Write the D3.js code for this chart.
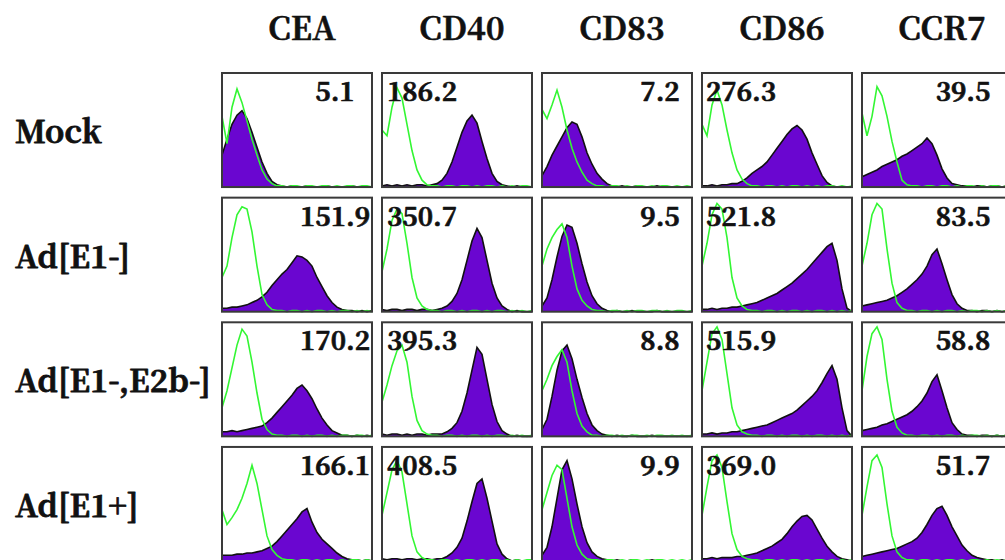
<!DOCTYPE html>
<html>
<head>
<meta charset="utf-8">
<script src="https://cdn.jsdelivr.net/npm/d3@7"></script>
<style>
  body { margin: 0; background: #fff; }
</style>
</head>
<body>
<div id="chart"></div>
<script>
const width = 1005, height = 560;

// markers (columns) and conditions (rows)
const markers = ['CEA', 'CD40', 'CD83', 'CD86', 'CCR7'];
const conditions = ['Mock', 'Ad[E1-]', 'Ad[E1-,E2b-]', 'Ad[E1+]'];

// MFI values printed in each panel
const mfiMock  = ['5.1', '186.2', '7.2', '276.3', '39.5'];
const mfiE1    = ['151.9', '350.7', '9.5', '521.8', '83.5'];
const mfiE2b   = ['170.2', '395.3', '8.8', '515.9', '58.8'];
const mfiE1pos = ['166.1', '408.5', '9.9', '369.0', '51.7'];

// histogram heights (% of panel height), 31 channels across the panel
// isotype control (green line)
const isoMock = [
  [62,38,70,86,74,58,42,28,15,7,3,1,1,0,1,1,0,1,1,0,1,1,0,1,0,1,1,0,1,1,0],
  [50,45,70,87,78,55,32,15,6,2,1,1,0,1,1,0,1,1,0,1,0,1,1,0,1,0,1,0,1,1,0],
  [68,60,72,85,70,50,34,22,13,6,3,1,1,0,1,1,0,1,0,1,1,0,1,0,1,1,0,1,0,1,0],
  [55,45,72,85,72,50,30,15,7,3,1,1,0,1,1,0,1,0,1,1,0,1,0,1,0,1,1,0,1,0,1],
  [65,45,62,88,80,62,40,22,6,2,1,1,0,1,1,0,1,1,0,1,0,1,1,0,1,0,1,1,0,1,0]
];
const isoE1 = [
  [30,40,65,85,92,90,70,40,15,6,2,1,1,0,1,1,0,1,0,1,1,0,1,0,1,1,0,1,0,1,0],
  [35,55,80,90,86,60,30,12,5,2,1,1,0,1,1,0,1,0,1,1,0,1,0,1,1,0,1,0,1,0,1],
  [40,55,65,72,77,65,40,20,10,5,2,1,1,0,1,1,0,1,0,1,1,0,1,1,0,1,0,1,1,0,1],
  [40,60,85,95,90,65,30,12,5,2,1,1,0,1,1,0,1,0,1,1,0,1,0,1,1,0,1,0,1,0,1],
  [40,60,85,95,90,55,25,8,3,1,1,0,1,1,0,1,0,1,1,0,1,0,1,1,0,1,0,1,0,1,1]
];
const isoE2b = [
  [25,40,60,80,94,88,65,38,15,6,2,1,1,0,1,1,0,1,0,1,1,0,1,0,1,1,0,1,1,0,1],
  [30,45,62,75,80,65,35,14,5,2,1,1,0,1,1,0,1,0,1,1,0,1,0,1,1,0,1,0,1,0,1],
  [40,50,62,70,76,65,40,20,9,4,1,1,0,1,1,0,1,0,1,1,0,1,0,1,1,0,1,0,1,0,1],
  [40,65,90,96,85,55,25,10,4,2,1,1,0,1,1,0,1,0,1,1,0,1,0,1,1,0,1,0,1,0,1],
  [40,70,90,96,85,50,22,8,3,1,1,0,1,1,0,1,0,1,1,0,1,0,1,1,0,1,0,1,0,1,1]
];
const isoE1pos = [
  [45,32,38,45,55,68,84,68,45,22,10,5,2,1,1,0,1,1,0,1,0,1,1,0,1,0,1,1,0,1,0],
  [40,60,80,88,78,50,22,8,3,1,1,0,1,1,0,1,0,1,1,0,1,0,1,1,0,1,0,1,0,1,1],
  [45,60,75,84,80,55,30,14,6,2,1,1,0,1,1,0,1,0,1,1,0,1,0,1,1,0,1,0,1,0,1],
  [40,65,88,93,82,52,24,10,4,2,1,1,0,1,1,0,1,0,1,1,0,1,0,1,1,0,1,0,1,0,1],
  [40,65,88,93,82,50,22,8,3,1,1,0,1,1,0,1,0,1,1,0,1,0,1,1,0,1,0,1,0,1,1]
];

// specific stain (purple fill)
const stainMock = [
  [28,42,55,63,67,60,48,35,22,12,5,2,1,0,1,0,0,1,0,0,0,1,0,0,0,0,1,0,0,0,0],
  [1,2,1,2,1,2,1,2,2,1,2,3,6,12,22,35,48,58,63,56,40,25,12,5,2,1,0,1,0,0,0],
  [10,18,28,36,44,52,57,55,44,30,20,12,7,3,1,0,1,0,0,1,0,0,0,1,0,0,0,0,0,0,0],
  [1,1,2,1,2,2,3,3,5,8,12,15,18,22,28,34,40,46,51,54,50,42,30,20,10,4,1,0,0,0,0],
  [9,11,13,15,18,20,22,24,27,29,32,35,38,43,38,28,16,8,3,2,1,1,0,1,1,0,1,1,0,1,0]
];
const stainE1 = [
  [3,3,4,4,5,6,8,10,13,17,23,28,33,37,43,49,48,45,40,30,22,14,8,4,2,1,1,0,1,0,1],
  [2,1,2,2,1,2,2,1,2,2,1,2,3,5,9,16,28,45,62,73,65,45,25,12,5,2,0,1,0,0,0],
  [5,12,28,48,66,76,74,60,42,26,14,7,3,1,0,1,0,0,1,0,0,0,0,1,0,0,0,0,0,0,0],
  [2,2,3,2,3,3,4,4,5,6,7,8,10,12,14,16,19,22,25,29,33,37,42,47,52,57,60,45,20,3,0],
  [5,6,7,8,9,10,12,14,17,20,24,28,33,40,50,55,42,28,15,7,3,1,1,0,1,1,0,1,0,1,0]
];
const stainE2b = [
  [4,4,5,4,5,6,7,8,9,12,16,21,26,31,36,42,45,40,33,24,16,10,5,3,1,1,0,1,0,1,0],
  [2,1,2,2,1,2,1,2,2,1,2,2,2,4,7,12,22,38,58,78,72,50,28,13,5,2,0,1,0,0,0],
  [6,15,35,58,75,80,68,50,34,20,10,5,2,1,0,1,0,0,1,0,0,0,1,0,0,0,0,0,0,0,0],
  [2,2,3,2,3,3,4,4,5,6,7,8,9,10,12,14,16,18,20,23,27,31,35,40,47,55,62,50,25,5,0],
  [5,6,7,8,10,11,13,15,17,19,22,26,31,38,48,54,40,25,12,6,2,1,1,0,1,1,0,1,0,1,0]
];
const stainE1pos = [
  [5,5,5,6,6,7,7,8,9,11,13,17,22,27,32,37,43,46,34,25,19,15,11,7,4,2,1,1,0,1,0],
  [2,1,2,2,1,2,2,1,2,2,1,2,2,4,7,12,20,35,52,68,72,55,35,15,6,2,0,1,0,0,0],
  [5,12,30,55,80,88,72,50,30,16,8,4,2,1,0,1,0,0,1,0,0,0,1,0,0,0,0,0,0,0,0],
  [2,2,3,2,3,3,3,4,4,5,6,7,9,11,13,16,19,24,30,35,39,40,36,28,20,13,8,4,2,1,0],
  [4,5,6,7,8,9,10,11,13,15,17,20,25,32,40,46,48,40,30,22,14,9,5,3,2,1,1,0,1,0,1]
];

const rows = [
  { name: conditions[0], mfi: mfiMock,  iso: isoMock,  stain: stainMock },
  { name: conditions[1], mfi: mfiE1,    iso: isoE1,    stain: stainE1 },
  { name: conditions[2], mfi: mfiE2b,   iso: isoE2b,   stain: stainE2b },
  { name: conditions[3], mfi: mfiE1pos, iso: isoE1pos, stain: stainE1pos }
];

// only a regular serif face is around, so text gets a stroke to look bold
const serif = "'Noto Serif CJK SC', 'DejaVu Serif', serif";

const boldText = (sel, sw) => sel
  .attr('font-family', serif)
  .attr('font-weight', 'bold')
  .style('fill', '#111')
  .style('stroke', '#111')
  .style('stroke-width', sw + 'px')
  .style('stroke-linejoin', 'round');

const svg = d3.select('#chart')
  .append('svg')
  .attr('width', width)
  .attr('height', height);

// grid of panels
const colScale = d3.scaleBand()
  .domain(markers)
  .range([222, 1012])
  .paddingInner(0.0625);

const rowScale = d3.scaleBand()
  .domain(conditions)
  .range([73, 561])
  .paddingInner(0.085);

const pw = colScale.bandwidth();
const ph = rowScale.bandwidth();

const x = d3.scaleLinear().domain([0, 30]).range([0, pw]);
const y = d3.scaleLinear().domain([0, 100]).range([ph, 0]);

const area = d3.area()
  .x((d, i) => x(i))
  .y0(ph)
  .y1(d => y(d));

const line = d3.line()
  .x((d, i) => x(i))
  .y(d => y(d));

// where the MFI number goes in each column
const labelPos = { CEA: ['middle', 113], CD40: ['start', 5], CD83: ['middle', 118], CD86: ['start', 4], CCR7: ['middle', 101] };

// column headers
svg.selectAll('.header')
  .data(markers)
  .enter()
  .append('text')
  .attr('class', 'header')
  .attr('x', d => colScale(d) + pw / 2 + 5)
  .attr('y', 40)
  .attr('text-anchor', 'middle')
  .attr('font-size', 32)
  .text(d => d)
  .call(boldText, 0.6);

// row labels
svg.selectAll('.rowlabel')
  .data(rows)
  .enter()
  .append('text')
  .attr('class', 'rowlabel')
  .attr('x', 15)
  .attr('y', d => rowScale(d.name) + ph / 2 + 13)
  .attr('font-size', 31)
  .text(d => d.name)
  .call(boldText, 0.8);

rows.forEach(row => {
  markers.forEach((m, j) => {
    const g = svg.append('g')
      .attr('transform', `translate(${colScale(m)},${rowScale(row.name)})`);

    g.append('rect')
      .attr('width', pw)
      .attr('height', ph)
      .attr('fill', '#fff');

    g.append('path')
      .datum(row.stain[j])
      .attr('d', area)
      .attr('fill', '#6a06d0');

    g.append('path')
      .datum(row.stain[j])
      .attr('d', line)
      .attr('fill', 'none')
      .attr('stroke', '#111')
      .attr('stroke-width', 1.6);

    g.append('path')
      .datum(row.iso[j])
      .attr('d', line)
      .attr('fill', 'none')
      .attr('stroke', '#33f633')
      .attr('stroke-width', 1.6);

    g.append('rect')
      .attr('width', pw)
      .attr('height', ph)
      .attr('fill', 'none')
      .attr('stroke', '#3a3a3a')
      .attr('stroke-width', 2);

    const [anchor, dx] = labelPos[m];
    g.append('text')
      .attr('x', dx)
      .attr('y', 28)
      .attr('text-anchor', anchor)
      .attr('font-size', 26)
      .text(row.mfi[j])
      .call(boldText, 0.7);
  });
});
</script>
</body>
</html>
